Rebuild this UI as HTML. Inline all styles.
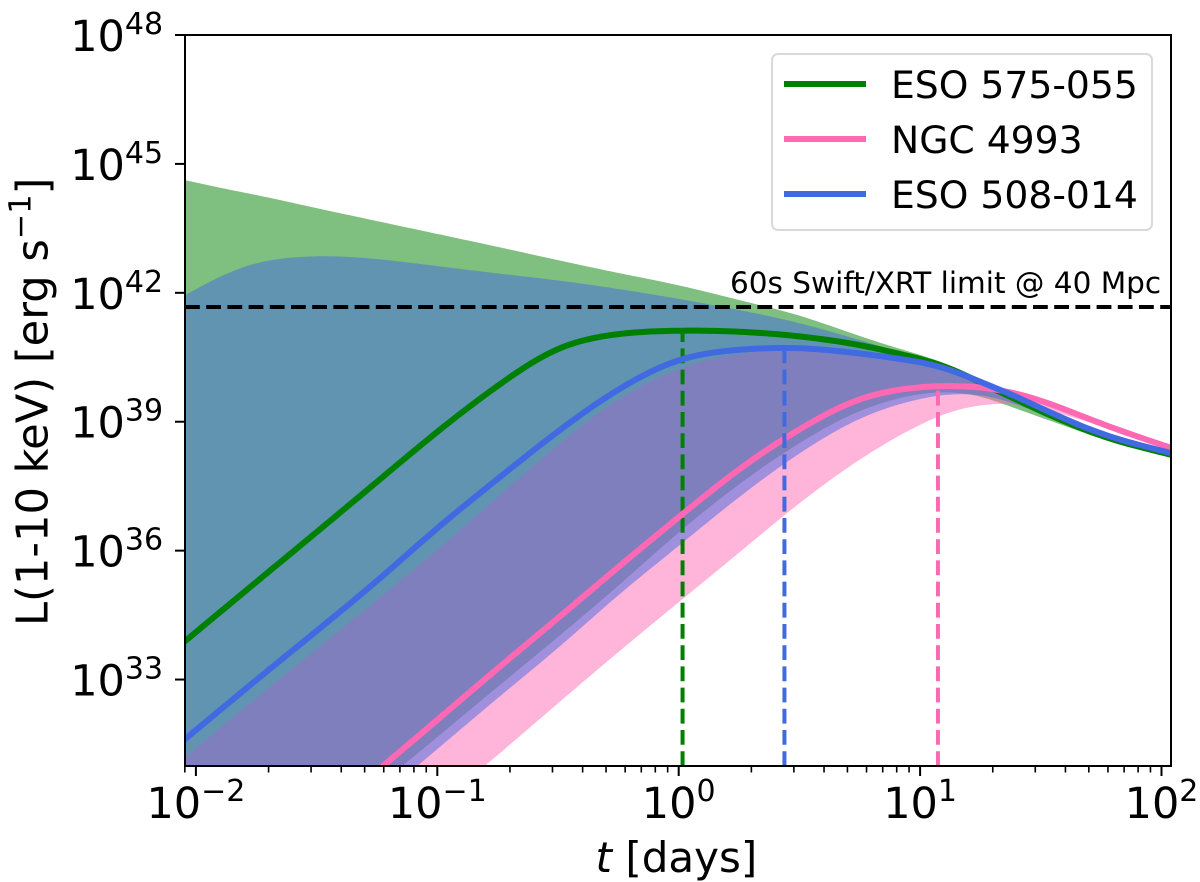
<!DOCTYPE html>
<html>
<head>
<meta charset="utf-8">
<title>L(1-10 keV) light curves</title>
<style>
html,body{margin:0;padding:0;background:#fff;overflow:hidden;}
svg{display:block;}
text{font-family:"DejaVu Sans","Liberation Sans",sans-serif;fill:#000;}
</style>
</head>
<body>
<svg id="chart" xmlns="http://www.w3.org/2000/svg" width="1200" height="882" viewBox="0 0 1200 882">
  <defs>
    <clipPath id="plot-clip"><rect x="185" y="35" width="986" height="731"></rect></clipPath>
  </defs>
  <rect x="0" y="0" width="1200" height="882" fill="#ffffff"></rect>
  <g id="fills" clip-path="url(#plot-clip)"></g>
  <g id="lines" clip-path="url(#plot-clip)"></g>
  <g id="axes"></g>
  <text x="730" y="293" font-size="29.5">60s Swift/XRT limit @ 40 Mpc</text>
  <text x="595.5" y="872" font-size="42"><tspan font-style="italic">t</tspan> [days]</text>
  <text transform="translate(47.5,626) rotate(-90)" font-size="43.2">L(1-10 keV) [erg s<tspan font-size="30.3" dy="-17">−1</tspan><tspan dy="17">]</tspan></text>
  <g>
    <rect x="772" y="54" width="380" height="176" rx="6" ry="6" fill="#ffffff" fill-opacity="0.8" stroke="#d9d9d9" stroke-width="2"></rect>
    <line x1="784" y1="84" x2="866" y2="84" stroke="#008000" stroke-width="6"></line>
    <text x="891" y="98" font-size="37.7">ESO 575-055</text>
    <line x1="784" y1="139" x2="866" y2="139" stroke="#ff69b4" stroke-width="6"></line>
    <text x="891" y="153" font-size="37.7">NGC 4993</text>
    <line x1="784" y1="194" x2="866" y2="194" stroke="#4169e1" stroke-width="6"></line>
    <text x="891" y="208" font-size="37.7">ESO 508-014</text>
  </g>
</svg>
<script>
// log10(t / days) sample grid
const logTimes = [-2.05,-1.9,-1.75,-1.5,-1.25,-1,-0.75,-0.5,-0.25,0,0.25,0.5,0.75,1,1.125,1.25,1.375,1.5,1.75,2.04];

// log10(L) central curves
const greenLine = [33.87,34.57,35.27,36.43,37.60,38.77,39.84,40.73,41.05,41.12,41.10,40.99,40.79,40.46,40.27,39.90,39.58,39.25,38.66,38.23];
const pinkLine  = [27.05,27.75,28.47,29.68,30.87,32.06,33.26,34.43,35.62,36.78,37.90,38.83,39.55,39.82,39.83,39.82,39.69,39.51,38.95,38.39];
const blueLine  = [31.59,32.29,32.99,34.13,35.29,36.53,37.67,38.78,39.76,40.46,40.68,40.72,40.59,40.39,40.23,39.92,39.65,39.32,38.71,38.27];

// log10(L) band edges
const greenUpper = [44.63,44.44,44.28,43.97,43.67,43.37,43.07,42.76,42.46,42.18,41.83,41.48,40.99,40.55,40.34,39.95,39.62,39.30,38.69,38.27];
const greenLower = [26.75,27.45,28.15,29.31,30.50,31.66,32.83,33.99,35.18,36.43,37.55,38.51,39.27,39.67,39.70,39.62,39.34,39.11,38.60,38.18];
const pinkUpper  = [31.17,31.87,32.57,33.71,34.85,36.01,37.25,38.46,39.55,40.24,40.60,40.65,40.52,40.32,40.13,39.88,39.67,39.53,38.97,38.41];
const pinkLower  = [25.19,25.89,26.59,27.75,28.92,30.08,31.24,32.45,33.64,34.80,35.95,37.11,38.13,38.95,39.25,39.40,39.44,39.32,38.90,38.37];
const blueUpper  = [41.93,42.39,42.72,42.86,42.79,42.62,42.45,42.29,42.09,41.86,41.60,41.30,40.90,40.48,40.27,39.92,39.60,39.30,38.71,38.30];
const blueLower  = [26.47,27.17,27.87,29.03,30.20,31.38,32.57,33.73,34.97,36.11,37.25,38.27,39.09,39.55,39.65,39.65,39.46,39.20,38.69,38.23];

// peak markers: log10(t) and log10(L)
const peakLogTimes = [0.016,0.438,1.074];
const peakLogLums  = [41.12,40.72,39.83];

// XRT limit log10(L)
const limitLogLum = 41.67;

// axis tick values
const xMajorTicks = [-2,-1,0,1,2];
const xMinorFactors = [2,3,4,5,6,7,8,9];
const yMajorTicks = [33,36,39,42,45,48];

const NS = 'http://www.w3.org/2000/svg';
const xPos = function (lt) { return 678.7 + 241.4 * lt; };
const yPos = function (ll) { return 35 + 42.97 * (48 - ll); };

function make(parent, tag, attrs, txt) {
  const el = document.createElementNS(NS, tag);
  for (const k in attrs) el.setAttribute(k, attrs[k]);
  if (txt !== undefined) el.textContent = txt;
  parent.appendChild(el);
  return el;
}

// Sample a Hermite spline through the values, lightly smooth it so the curves
// have no reading-noise kinks, and hold off-axis samples just under the frame.
function sampled(values) {
  const pts = values.map(function (v, i) { return [xPos(logTimes[i]), yPos(v)]; });
  const step = 4;
  const xs = [], ys = [];
  for (let i = 0; i < pts.length - 1; i++) {
    const p0 = pts[Math.max(i - 1, 0)], p1 = pts[i], p2 = pts[i + 1], p3 = pts[Math.min(i + 2, pts.length - 1)];
    const h = p2[0] - p1[0];
    const m1 = (p2[1] - p0[1]) / (p2[0] - p0[0]);
    const m2 = (p3[1] - p1[1]) / (p3[0] - p1[0]);
    const n = Math.max(1, Math.round(h / step));
    for (let j = 0; j < n; j++) {
      const s = j / n, s2 = s * s, s3 = s2 * s;
      xs.push(p1[0] + h * s);
      ys.push((2 * s3 - 3 * s2 + 1) * p1[1] + (s3 - 2 * s2 + s) * h * m1 + (-2 * s3 + 3 * s2) * p2[1] + (s3 - s2) * h * m2);
    }
  }
  xs.push(pts[pts.length - 1][0]);
  ys.push(pts[pts.length - 1][1]);
  const sigma = 5, reach = 15, N = ys.length;
  const out = [];
  for (let i = 0; i < N; i++) {
    let sum = 0, wsum = 0;
    for (let k = -reach; k <= reach; k++) {
      const w = Math.exp(-k * k / (2 * sigma * sigma));
      const j = i + k;
      let y;
      if (j < 0) y = ys[0] + (ys[0] - ys[-j]);
      else if (j >= N) y = ys[N - 1] + (ys[N - 1] - ys[2 * (N - 1) - j]);
      else y = ys[j];
      sum += w * y;
      wsum += w;
    }
    out.push([xs[i], Math.min(sum / wsum, 772)]);
  }
  return out;
}

function pathOf(pts) {
  return pts.map(function (p, i) { return (i ? 'L' : 'M') + p[0].toFixed(1) + ' ' + p[1].toFixed(2); }).join('');
}

function bandPath(upper, lower) {
  const pts = sampled(upper).concat(sampled(lower).reverse());
  return pathOf(pts) + 'Z';
}

const fills = document.getElementById('fills');
const lines = document.getElementById('lines');
const axes = document.getElementById('axes');

// bands: green, pink, blue
const greenBand = make(fills, 'path', { d: bandPath(greenUpper, greenLower), fill: '#008000', 'fill-opacity': 0.5 });


const pinkBand = make(fills, 'path', { d: bandPath(pinkUpper, pinkLower), fill: '#ff69b4', 'fill-opacity': 0.5 });


const blueBand = make(fills, 'path', { d: bandPath(blueUpper, blueLower), fill: '#4169e1', 'fill-opacity': 0.5 });



// lines and peak markers
function vline(i, color) {
  const x = xPos(peakLogTimes[i]);
  return make(lines, 'line', { x1: x, x2: x, y1: 766, y2: yPos(peakLogLums[i]), stroke: color, 'stroke-width': 4, 'stroke-dasharray': '14.8 6.4' });
}
function curve(values, color) {
  return make(lines, 'path', { d: pathOf(sampled(values)), fill: 'none', stroke: color, 'stroke-width': 6, 'stroke-linejoin': 'round' });
}
const greenCurve = curve(greenLine, '#008000');


const greenPeak = vline(0, '#008000');


const pinkCurve = curve(pinkLine, '#ff69b4');


const pinkPeak = vline(2, '#ff69b4');


const blueCurve = curve(blueLine, '#4169e1');


const bluePeak = vline(1, '#4169e1');



const limitLine = make(lines, 'line', { x1: 185, x2: 1171, y1: yPos(limitLogLum), y2: yPos(limitLogLum), stroke: '#000', 'stroke-width': 4, 'stroke-dasharray': '14.8 6.4' });



// spines
const frame = make(axes, 'rect', { x: 185, y: 35, width: 986, height: 731, fill: 'none', stroke: '#000', 'stroke-width': 2 });



const BASE_SIZE = 43, SUP_SIZE = 30;

// x ticks
for (let d = -3; d <= 2; d++) {
  for (const f of xMinorFactors) {
    const lt = d + Math.log10(f);
    const x = xPos(lt);
    if (x < 184.5 || x > 1171.5) continue;
    const mt = make(axes, 'line', { x1: x, x2: x, y1: 766, y2: 772.5, stroke: '#000', 'stroke-width': 1.6 });
    
    
  }
}
for (const v of xMajorTicks) {
  const x = xPos(v);
  const tk = make(axes, 'line', { x1: x, x2: x, y1: 766, y2: 776, stroke: '#000', 'stroke-width': 2 });
  
  
  const supText = String(v).replace('-', '\u2212');
  const baseW = 1.272 * BASE_SIZE;
  const supW = (v < 0 ? (0.838 + 0.636) : 0.636) * SUP_SIZE;
  const start = x - (baseW + supW) / 2;
  const base = make(axes, 'text', { x: start, y: 818, 'font-size': BASE_SIZE }, '10');
  
  
  const sup = make(axes, 'text', { x: start + baseW, y: 801, 'font-size': SUP_SIZE }, supText);
  
  
}

// y ticks
for (const v of yMajorTicks) {
  const y = yPos(v);
  const tk = make(axes, 'line', { x1: 175, x2: 185, y1: y, y2: y, stroke: '#000', 'stroke-width': 2 });
  
  
  const base = make(axes, 'text', { x: 70.2, y: y + 16, 'font-size': BASE_SIZE }, '10');
  
  
  const sup = make(axes, 'text', { x: 70.2 + 1.272 * BASE_SIZE, y: y - 1, 'font-size': SUP_SIZE }, String(v));
  
  
}
</script>
</body>
</html>
